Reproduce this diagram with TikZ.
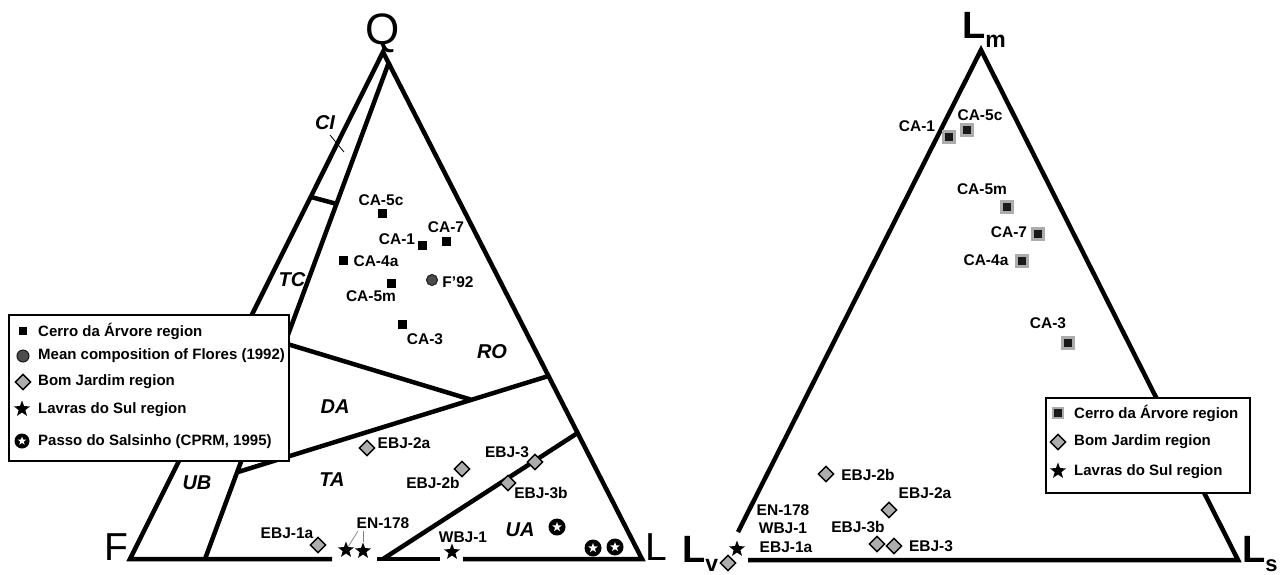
\documentclass[tikz,border=0pt]{standalone}
\usepackage{fontspec}
\setmainfont{Liberation Sans}
\usetikzlibrary{shapes.geometric}
\definecolor{dgray}{gray}{0.68}
\begin{document}
\begin{tikzpicture}[x=1pt,y=-1pt,
  edge/.style={line width=4.5pt, line join=miter, line cap=butt},
  lbl/.style={font=\fontsize{15.5}{17}\selectfont\bfseries, inner sep=0pt},
  legtxt/.style={font=\fontsize{15}{17}\selectfont\bfseries, anchor=west, inner sep=0pt},
  region/.style={font=\fontsize{20}{22}\selectfont\bfseries\itshape, inner sep=0pt},
  apexlbl/.style={font=\fontsize{39}{41}\selectfont, inner sep=0pt, anchor=base west},
  boldapex/.style={font=\fontsize{38}{40}\selectfont\bfseries, inner sep=0pt, anchor=base west},
  sqmark/.style={rectangle, fill=black, minimum size=9pt, inner sep=0pt},
  sqmarkR/.style={rectangle, fill=black!90, draw=gray!65, line width=2.5pt, minimum size=11pt, inner sep=0pt},
  dmark/.style={diamond, fill=dgray, draw=black, line width=1.4pt, minimum size=16pt, inner sep=0pt},
  smark/.style={star, star points=5, star point ratio=2.4, fill=black, minimum size=17pt, inner sep=0pt},
  cmark/.style={circle, fill=black!70, draw=black!90, line width=1pt, minimum size=11pt, inner sep=0pt},
  pmark/.style={circle, fill=black, minimum size=17pt, inner sep=0pt},
  pstar/.style={star, star points=5, star point ratio=2.4, fill=white, minimum size=10pt, inner sep=0pt},
  legbox/.style={draw=black, fill=white, line width=1.8pt, inner sep=0pt, anchor=north west},
  leader/.style={draw=gray, line width=0.7pt},
]
\useasboundingbox (0,0) rectangle (1285,574);

% ---------------- left diagram (QFL) ----------------
\coordinate (Q) at (383,52);
\coordinate (F) at (130,559);
\coordinate (L) at (642,559);
\coordinate (qi) at (389,62);
\coordinate (fi) at (205,559);
\draw[edge] (332,559) -- (F) -- (Q) -- (L) -- (463,559);
\draw[edge] (377,559) -- (440,559);
\draw[edge] (qi) -- (fi);
\draw[edge] (311,197) -- (337,204);
\draw[line width=0.8pt] (330,135) -- (344,152);
\draw[edge] (284,343) -- (470.5,399.5);
\draw[edge] (238,472) -- (548.5,376);
\draw[edge] (383,559) -- (577.6,433);

\node[font=\fontsize{44}{46}\selectfont, inner sep=0pt, anchor=base] (Qlbl) at (383,44) {Q};
\node[apexlbl] (Flbl) at (104,560) {F};
\node[apexlbl] (Llbl) at (645,560) {L};

\node[region] (CI) at (325,123) {CI};
\node[region] (TC) at (292,280) {TC};
\node[region] (RO) at (492,352) {RO};
\node[region] (DA) at (335,407) {DA};
\node[region] (TA) at (332,480) {TA};
\node[region] (UB) at (197,483) {UB};
\node[region] (UA) at (520,530) {UA};

% Cerro da Arvore samples
\node[sqmark] (a5c) at (382,213) {};
\node[sqmark] (a1) at (422,245) {};
\node[sqmark] (a7) at (446,241) {};
\node[sqmark] (a4a) at (343,260) {};
\node[sqmark] (a5m) at (391,283) {};
\node[sqmark] (a3) at (402,324) {};
\node[lbl] (ta5c) at (381,200) {CA-5c};
\node[lbl] (ta1) at (397,239) {CA-1};
\node[lbl] (ta7) at (446,227) {CA-7};
\node[lbl] (ta4a) at (376,261) {CA-4a};
\node[lbl] (ta5m) at (371,296) {CA-5m};
\node[lbl] (ta3) at (425,339) {CA-3};
\node[cmark] (f92) at (432,280) {};
\node[lbl] (tf92) at (458,282) {F'92};

% Bom Jardim
\node[dmark] (b2a) at (367,448) {};
\node[dmark] (b2b) at (462,469) {};
\node[dmark] (b3) at (535,462) {};
\node[dmark] (b3b) at (508,483) {};
\node[dmark] (b1a) at (318,545) {};
\node[lbl] (tb2a) at (404,443) {EBJ-2a};
\node[lbl] (tb2b) at (433,483) {EBJ-2b};
\node[lbl] (tb3) at (507,452) {EBJ-3};
\node[lbl] (tb3b) at (541,493) {EBJ-3b};
\node[lbl] (tb1a) at (287,533) {EBJ-1a};

% Lavras do Sul
\node[smark] (s1) at (346,550) {};
\node[smark] (s2) at (363,551) {};
\node[smark] (s3) at (452,552) {};
\node[lbl] (ten) at (383,523) {EN-178};
\node[lbl] (twbj) at (463,537) {WBJ-1};
\coordinate (k1) at (358,531);
\coordinate (k2) at (363,531);
\draw[leader] (k1) -- (s1);
\draw[leader] (k2) -- (s2);

% Passo do Salsinho
\node[pmark] (p1) at (557,527) {};
\node[pstar] (p1s) at (p1) {};
\node[pmark] (p2) at (593,548) {};
\node[pstar] (p2s) at (p2) {};
\node[pmark] (p3) at (615,547) {};
\node[pstar] (p3s) at (p3) {};

% left legend
\node[legbox, minimum width=280pt, minimum height=146pt] (leg1) at (8,314) {};
\node[sqmark, minimum size=8pt] (lg1) at (23,331) {};
\node[legtxt] (lt1) at (38,331) {Cerro da Árvore region};
\node[cmark, minimum size=12pt] (lg2) at (23,356) {};
\node[legtxt] (lt2) at (38,356) {Mean composition of Flores (1992)};
\node[dmark] (lg3) at (23,382) {};
\node[legtxt] (lt3) at (38,382) {Bom Jardim region};
\node[smark] (lg4) at (22,409) {};
\node[legtxt] (lt4) at (38,410) {Lavras do Sul region};
\node[pmark, minimum size=15pt] (lg5) at (22,441) {};
\node[pstar, minimum size=9pt] (lg5s) at (lg5) {};
\node[legtxt] (lt5) at (38,442) {Passo do Salsinho (CPRM, 1995)};

% ---------------- right diagram (LmLvLs) ----------------
\coordinate (Lm) at (981,50);
\coordinate (Ls) at (1238,560);
\coordinate (lvA) at (738,532);
\coordinate (lvB) at (748,560);
\draw[edge] (lvA) -- (Lm) -- (Ls) -- (lvB);

\node[boldapex] (Lmlbl) at (962,38) {L\raisebox{-9pt}{\fontsize{23}{23}\selectfont m}};
\node[boldapex] (Lslbl) at (1242,562) {L\raisebox{-9pt}{\fontsize{22}{22}\selectfont s}};
\node[boldapex] (Lvlbl) at (682,562) {L\raisebox{-9pt}{\fontsize{23}{23}\selectfont v}};

\node[sqmarkR] (r1) at (949,137) {};
\node[sqmarkR] (r5c) at (967,130) {};
\node[sqmarkR] (r5m) at (1007,207) {};
\node[sqmarkR] (r7) at (1038,234) {};
\node[sqmarkR] (r4a) at (1022,261) {};
\node[sqmarkR] (r3) at (1068,343) {};
\node[lbl] (tr1) at (917,126) {CA-1};
\node[lbl] (tr5c) at (980,115) {CA-5c};
\node[lbl] (tr5m) at (982,189) {CA-5m};
\node[lbl] (tr7) at (1009,232) {CA-7};
\node[lbl] (tr4a) at (986,260) {CA-4a};
\node[lbl] (tr3) at (1048,323) {CA-3};

\node[dmark] (rb2b) at (826,474) {};
\node[dmark] (rb2a) at (889,510) {};
\node[dmark] (rb3b) at (877,544) {};
\node[dmark] (rb3) at (894,546) {};
\node[dmark] (rb1a) at (728,563) {};
\node[smark] (rs) at (737,549) {};
\node[lbl] (trb2b) at (868,475) {EBJ-2b};
\node[lbl] (trb2a) at (925,493) {EBJ-2a};
\node[lbl] (trb3b) at (858,527) {EBJ-3b};
\node[lbl] (trb3) at (931,546) {EBJ-3};
\node[lbl] (tren) at (783,510) {EN-178};
\node[lbl] (trwbj) at (783,528) {WBJ-1};
\node[lbl] (trb1a) at (786,547) {EBJ-1a};

% right legend
\node[legbox, minimum width=204pt, minimum height=95pt] (leg2) at (1045,397) {};
\node[sqmarkR, minimum size=10pt] (rg1) at (1058,413) {};
\node[legtxt] (rt1) at (1074,413) {Cerro da Árvore region};
\node[dmark] (rg2) at (1058,442) {};
\node[legtxt] (rt2) at (1074,442) {Bom Jardim region};
\node[smark] (rg3) at (1058,471) {};
\node[legtxt] (rt3) at (1074,472) {Lavras do Sul region};
\end{tikzpicture}
\end{document}
